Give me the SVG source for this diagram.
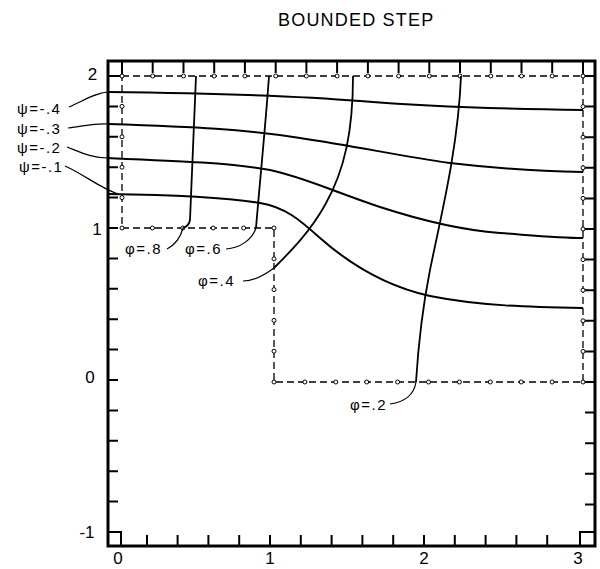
<svg xmlns="http://www.w3.org/2000/svg" width="600" height="569" viewBox="0 0 600 569">
<defs>
<style>
.bg{fill:#fff}
.frame{fill:none;stroke:#000;stroke-width:3}
.sq{fill:none;stroke:#000;stroke-width:2}
.tick{fill:none;stroke:#000;stroke-width:2}
.bnd{fill:none;stroke:#000;stroke-width:1.3;stroke-dasharray:7 4}
.pt{fill:#fff;stroke:#000;stroke-width:1}
.psi{fill:none;stroke:#000;stroke-width:2}
.phi{fill:none;stroke:#000;stroke-width:1.8}
.lead{fill:none;stroke:#000;stroke-width:1.2}
.t{font-family:"Liberation Sans",Arial,sans-serif;fill:#000}
.ax{font-size:17px;text-anchor:middle}
.lab{font-size:15px;letter-spacing:1.5px}
.title{font-size:18px;letter-spacing:1.2px}
</style>
</defs>
<rect class="bg" x="0" y="0" width="600" height="569"/>
<g id="title"><text class="t title" x="278" y="26">BOUNDED STEP</text></g>

<g id="frame">
<rect class="frame" x="108" y="61" width="487" height="485"/>
<rect class="sq" x="108" y="61" width="14" height="15"/>
<rect class="sq" x="583" y="61" width="12" height="15"/>
<rect class="sq" x="108" y="532" width="13" height="14"/>
<rect class="sq" x="580" y="532" width="15" height="14"/>
<path class="tick" d="M152.7,61v12M183.5,61v12M214.2,61v12M244.9,61v12M275.7,61v12M306.4,61v12M337.1,61v12M367.9,61v12M398.6,61v12M429.3,61v12M460,61v12M490.8,61v12M521.5,61v12M552.2,61v12"/>
<path class="tick" d="M147,546v-11M177.6,546v-11M208.4,546v-11M239.2,546v-11M270,546v-11M300.8,546v-11M331.6,546v-11M362.4,546v-11M393.2,546v-11M424,546v-11M454.8,546v-11M485.6,546v-11M516.4,546v-11M547.2,546v-11"/>
<path class="tick" d="M108,106.4h10M108,136.8h10M108,167.2h10M108,197.6h10M108,228h10M108,258.4h10M108,288.8h10M108,319.2h10M108,349.6h10M108,380h10M108,410.4h10M108,440.8h10M108,471.2h10M108,501.6h10"/>
<path class="tick" d="M595,106.6h-10M595,137.2h-10M595,167.8h-10M595,198.4h-10M595,229h-10M595,259.6h-10M595,290.2h-10M595,320.8h-10M595,351.4h-10M595,382h-10M595,412.6h-10M595,443.2h-10M595,473.8h-10M595,504.4h-10"/>
</g>

<g id="axis-labels">
<text class="t ax" x="92.5" y="80">2</text>
<text class="t ax" x="97" y="235">1</text>
<text class="t ax" x="90" y="383">0</text>
<text class="t ax" x="87" y="538">-1</text>
<text class="t ax" x="118" y="564">0</text>
<text class="t ax" x="270" y="564">1</text>
<text class="t ax" x="424" y="564">2</text>
<text class="t ax" x="578" y="564">3</text>
</g>

<g id="boundary">
<path class="bnd" d="M122,76H583V382H274V228H122Z"/>
<g id="boundary-points">
<circle class="pt" cx="122" cy="76" r="2"/><circle class="pt" cx="152.7" cy="76" r="2"/><circle class="pt" cx="183.5" cy="76" r="2"/><circle class="pt" cx="214.2" cy="76" r="2"/><circle class="pt" cx="244.9" cy="76" r="2"/><circle class="pt" cx="275.7" cy="76" r="2"/><circle class="pt" cx="306.4" cy="76" r="2"/><circle class="pt" cx="337.1" cy="76" r="2"/><circle class="pt" cx="367.9" cy="76" r="2"/><circle class="pt" cx="398.6" cy="76" r="2"/><circle class="pt" cx="429.3" cy="76" r="2"/><circle class="pt" cx="460" cy="76" r="2"/><circle class="pt" cx="490.8" cy="76" r="2"/><circle class="pt" cx="521.5" cy="76" r="2"/><circle class="pt" cx="552.2" cy="76" r="2"/><circle class="pt" cx="583" cy="76" r="2"/>
<circle class="pt" cx="122" cy="106.4" r="2"/><circle class="pt" cx="122" cy="136.8" r="2"/><circle class="pt" cx="122" cy="167.2" r="2"/><circle class="pt" cx="122" cy="197.6" r="2"/><circle class="pt" cx="122" cy="228" r="2"/>
<circle class="pt" cx="152.4" cy="228" r="2"/><circle class="pt" cx="182.8" cy="228" r="2"/><circle class="pt" cx="213.2" cy="228" r="2"/><circle class="pt" cx="243.6" cy="228" r="2"/><circle class="pt" cx="274" cy="228" r="2"/>
<circle class="pt" cx="274" cy="258.8" r="2"/><circle class="pt" cx="274" cy="289.6" r="2"/><circle class="pt" cx="274" cy="320.4" r="2"/><circle class="pt" cx="274" cy="351.2" r="2"/><circle class="pt" cx="274" cy="382" r="2"/>
<circle class="pt" cx="304.9" cy="382" r="2"/><circle class="pt" cx="335.8" cy="382" r="2"/><circle class="pt" cx="366.7" cy="382" r="2"/><circle class="pt" cx="397.6" cy="382" r="2"/><circle class="pt" cx="428.5" cy="382" r="2"/><circle class="pt" cx="459.4" cy="382" r="2"/><circle class="pt" cx="490.3" cy="382" r="2"/><circle class="pt" cx="521.2" cy="382" r="2"/><circle class="pt" cx="552.1" cy="382" r="2"/><circle class="pt" cx="583" cy="382" r="2"/>
<circle class="pt" cx="583" cy="106.6" r="2"/><circle class="pt" cx="583" cy="137.2" r="2"/><circle class="pt" cx="583" cy="167.8" r="2"/><circle class="pt" cx="583" cy="198.4" r="2"/><circle class="pt" cx="583" cy="229" r="2"/><circle class="pt" cx="583" cy="259.6" r="2"/><circle class="pt" cx="583" cy="290.2" r="2"/><circle class="pt" cx="583" cy="320.8" r="2"/><circle class="pt" cx="583" cy="351.4" r="2"/>
</g>
</g>

<g id="streamlines">
<path id="psi-04" class="psi" d="M108,92 C200,93 300,96 360,101 S500,109 583,110"/>
<path id="psi-03" class="psi" d="M108,124 C200,127 240,129 300,138 C360,147 400,156 450,163 C500,169 540,171 583,172"/>
<path id="psi-02" class="psi" d="M108,158 C180,161 230,163 270,170 C300,176 330,190 380,207 C420,220 460,230 500,233 C540,236 560,238 583,238"/>
<path id="psi-01" class="psi" d="M108,194 C180,195 230,198 260,203 C285,207 300,220 320,238 C345,260 380,285 430,296 C480,306 530,307 583,308"/>
</g>

<g id="equipotentials">
<path id="phi-08" class="phi" d="M196,76 L190,220 Q189,226 183,228"/>
<path id="phi-06" class="phi" d="M269,76 C266,120 260,180 256,228"/>
<path id="phi-04" class="phi" d="M353,76 C353,130 345,170 325,205 C310,232 290,252 274,268"/>
<path id="phi-02" class="phi" d="M461,76 C458,150 440,220 430,270 C422,310 418,350 416,382"/>
</g>

<g id="connectors">
<path class="lead" d="M69,107 C85,100 95,93 108,92"/>
<path class="lead" d="M68,128 C85,126 95,123 108,124"/>
<path class="lead" d="M67,147 C80,152 92,158 108,158"/>
<path class="lead" d="M65,166 C85,175 100,188 118,194"/>
<path class="lead" d="M167,249 Q179,243 183,228"/>
<path class="lead" d="M226,249 C240,248 252,240 256,228"/>
<path class="lead" d="M274,268 C262,277 252,281 243,281"/>
<path class="lead" d="M416,382 C414,395 404,402 390,404"/>
</g>

<g id="labels">
<g id="label-psi-04"><text class="t lab" x="17" y="114">ψ=-.4</text></g>
<g id="label-psi-03"><text class="t lab" x="17" y="134">ψ=-.3</text></g>
<g id="label-psi-02"><text class="t lab" x="17" y="153">ψ=-.2</text></g>
<g id="label-psi-01"><text class="t lab" x="19" y="172">ψ=-.1</text></g>
<g id="label-phi-08"><text class="t lab" x="125" y="254">φ=.8</text></g>
<g id="label-phi-06"><text class="t lab" x="185" y="254">φ=.6</text></g>
<g id="label-phi-04"><text class="t lab" x="198" y="286">φ=.4</text></g>
<g id="label-phi-02"><text class="t lab" x="350" y="410">φ=.2</text></g>
</g>
</svg>
